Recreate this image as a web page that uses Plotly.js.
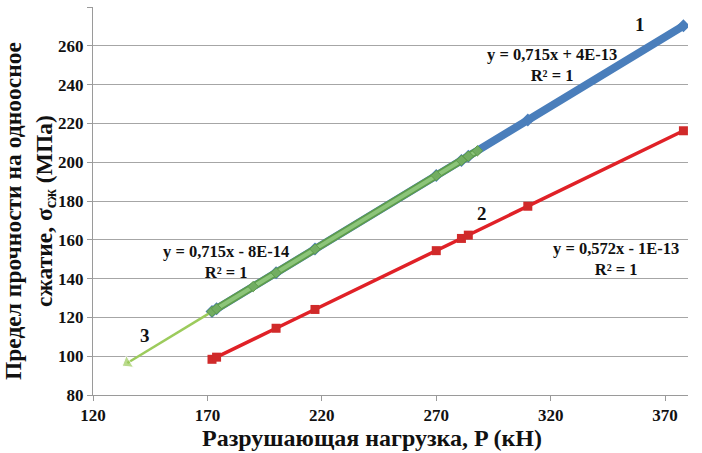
<!DOCTYPE html>
<html>
<head>
<meta charset="utf-8">
<script src="https://cdn.plot.ly/plotly-3.0.1.min.js"></script>
<style>html,body{margin:0;padding:0;background:#fff;}#chart{width:702px;height:453px;}</style>
</head>
<body>
<div id="chart"></div>
<script>
// Разрушающая нагрузка, P (кН)
const loadP = [172, 174, 200, 217, 270, 281, 284, 310, 378];
// Series 1 (blue): σ = 0,715·P
const strength1 = [123.0, 124.4, 143.0, 155.2, 193.1, 200.9, 203.1, 221.7, 270.3];
// Series 2 (red): σ = 0,572·P
const strength2 = [98.4, 99.5, 114.4, 124.1, 154.4, 160.7, 162.4, 177.3, 216.2];
// Series 3 (green)
const loadP3 = [172, 174, 190, 200, 217, 270, 281, 284, 288];
const strength3 = [123.0, 124.4, 135.9, 143.0, 155.2, 193.1, 200.9, 203.1, 205.9];
// Series 3 backward trend extension
const trendP3 = [172, 135];
const trendS3 = [123.0, 96.5];

const xTicks = [120, 170, 220, 270, 320, 370];
const yTicks = [80, 100, 120, 140, 160, 180, 200, 220, 240, 260, 280];

const serif = "'Liberation Serif', 'Tinos', 'DejaVu Serif', serif";

const traces = [
  {x: loadP, y: strength1, mode: 'lines+markers', name: '1',
   line: {color: '#4a7ebb', width: 8},
   marker: {symbol: 'diamond', size: 10, color: '#4a7ebb'}},
  {x: loadP, y: strength2, mode: 'lines+markers', name: '2',
   line: {color: '#e02127', width: 3.5},
   marker: {symbol: 'square', size: 9, color: '#d02a2a'}},
  {x: trendP3, y: trendS3, mode: 'lines+markers', name: '3 trend',
   line: {color: '#9ccb5c', width: 2.5},
   marker: {symbol: 'triangle-up', size: [0, 12], color: '#9ccb5c', angleref: 'previous'}},
  {x: loadP3, y: strength3, mode: 'lines', name: '3 outline',
   line: {color: '#5e9c4c', width: 7.5}},
  {x: loadP3, y: strength3, mode: 'lines+markers', name: '3',
   line: {color: '#8cc57a', width: 4},
   marker: {symbol: 'diamond', size: 8, color: '#72ad62', line: {color: '#5e9c4c', width: 1}}}
];

const annFont = {family: serif, size: 16.5, color: '#111', weight: 'bold'};
const numFont = {family: serif, size: 19, color: '#111', weight: 'bold'};

const layout = {
  width: 702, height: 453,
  margin: {l: 93, r: 14, t: 7, b: 58},
  paper_bgcolor: '#fff', plot_bgcolor: '#fff',
  showlegend: false,
  font: {family: serif, color: '#111'},
  xaxis: {
    range: [120, 380], tickvals: xTicks, ticktext: xTicks.map(String),
    showgrid: false, zeroline: false,
    showline: true, linecolor: '#9a9a9a', linewidth: 1,
    ticks: 'outside', ticklen: 5, tickcolor: '#9a9a9a',
    tickfont: {family: serif, size: 17, color: '#111', weight: 'bold'}
  },
  yaxis: {
    range: [80, 280], tickvals: yTicks, ticktext: yTicks.map(String),
    showgrid: true, gridcolor: '#a6a6a6', gridwidth: 1, zeroline: false,
    showline: true, linecolor: '#9a9a9a', linewidth: 1,
    ticks: 'outside', ticklen: 5, tickcolor: '#9a9a9a',
    tickfont: {family: serif, size: 17, color: '#111', weight: 'bold'}
  },
  annotations: [
    {x: 552, y: 65, text: 'y = 0,715x + 4E-13<br>R² = 1', font: annFont},
    {x: 226, y: 262, text: 'y = 0,715x - 8E-14<br>R² = 1', font: annFont},
    {x: 616, y: 259, text: 'y = 0,572x - 1E-13<br>R² = 1', font: annFont},
    {x: 640, y: 24, text: '1', font: numFont},
    {x: 482, y: 213, text: '2', font: numFont},
    {x: 145, y: 335, text: '3', font: numFont}
  ].map(a => Object.assign(a, {xref: 'x', yref: 'y', showarrow: false, xanchor: 'center', yanchor: 'middle'}))
};
// convert annotation pixel positions to data coordinates via axis scales
const plotL = 93, plotR = 702 - 14, plotT = 7, plotB = 453 - 58;
layout.annotations.forEach(a => {
  a.x = 120 + (a.x - plotL) / (plotR - plotL) * 260;
  a.y = 280 - (a.y - plotT) / (plotB - plotT) * 200;
});
// axis titles
layout.annotations.push(
  {xref: 'paper', yref: 'paper', x: (372 - plotL) / (plotR - plotL), y: -(438 - plotB) / (plotB - plotT),
   xanchor: 'center', yanchor: 'middle', showarrow: false,
   text: 'Разрушающая нагрузка, P (кН)', font: {family: serif, size: 24, color: '#111', weight: 'bold'}},
  {xref: 'paper', yref: 'paper', x: -(plotL - 30) / (plotR - plotL), y: (plotB - 211) / (plotB - plotT),
   xanchor: 'center', yanchor: 'middle', showarrow: false, textangle: -90,
   text: 'Предел прочности на одноосное<br>сжатие, σ<sub>сж</sub> (МПа)', font: {family: serif, size: 23.5, color: '#111', weight: 'bold'}}
);

Plotly.newPlot('chart', traces, layout, {displayModeBar: false, staticPlot: true});
</script>
</body>
</html>
